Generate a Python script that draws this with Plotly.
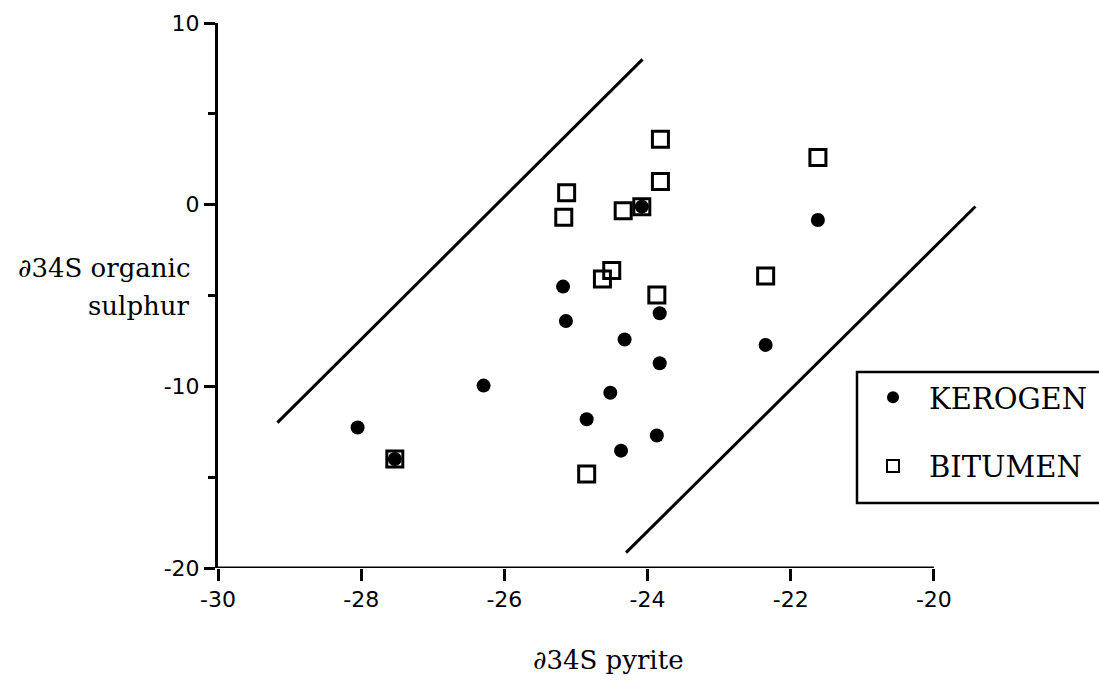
import plotly.graph_objects as go

# Sulphur isotope data: pyrite vs organic sulphur (per mil)
kerogen_x = [-28.05, -27.53, -26.29, -25.18, -25.14, -24.85, -24.52, -24.37,
             -24.32, -24.08, -23.87, -23.83, -23.83, -22.35, -21.62]
kerogen_y = [-12.27, -14.0, -9.96, -4.51, -6.40, -11.81, -10.35, -13.54,
             -7.42, -0.11, -12.71, -5.98, -8.73, -7.72, -0.84]

bitumen_x = [-27.53, -25.17, -25.13, -24.85, -24.63, -24.50, -24.34, -24.08,
             -23.87, -23.82, -23.82, -22.35, -21.62]
bitumen_y = [-14.0, -0.69, 0.66, -14.82, -4.09, -3.63, -0.33, -0.11,
             -4.97, 1.27, 3.60, -3.92, 2.59]

# Envelope lines bounding the data field
upper_x = [-29.17, -24.07]
upper_y = [-12.0, 8.0]
lower_x = [-24.30, -19.42]
lower_y = [-19.15, -0.1]

x_ticks = [-30, -28, -26, -24, -22, -20]
x_ticklabels = ["-30", "-28", "-26", "-24", "-22", "-20"]
y_ticks = [-20, -10, 0, 10]
y_ticklabels = ["-20", "-10", "0", "10"]

SERIF = "DejaVu Serif"
SANS = "DejaVu Sans"

W, H = 1099, 687
ML, MR, MT, MB = 218, 115, 23, 119
PW = W - ML - MR
PH = H - MT - MB


def px_x(p):
    return (p - ML) / PW


def px_y(p):
    return (H - MB - p) / PH


fig = go.Figure()

for lx, ly in ((upper_x, upper_y), (lower_x, lower_y)):
    fig.add_trace(go.Scatter(
        x=lx, y=ly, mode="lines",
        line=dict(color="black", width=3),
        showlegend=False, hoverinfo="skip",
    ))

fig.add_trace(go.Scatter(
    x=kerogen_x, y=kerogen_y, mode="markers", name="KEROGEN",
    legendgroup="k",
    marker=dict(symbol="circle", size=14, color="black"),
))
fig.add_trace(go.Scatter(
    x=bitumen_x, y=bitumen_y, mode="markers", name="BITUMEN",
    legendgroup="b",
    marker=dict(symbol="square-open", size=16, color="black",
                line=dict(color="black", width=3)),
))

# x axis baseline stops at -20 while the plot range runs a little further
fig.add_shape(type="line", xref="x", yref="y", x0=-30, x1=-20, y0=-20, y1=-20,
              line=dict(color="black", width=3))

# legend frame, running off the right edge of the page
fig.add_shape(type="rect", xref="paper", yref="paper",
              x0=px_x(857), x1=px_x(1112), y0=px_y(503), y1=px_y(372),
              line=dict(color="black", width=2.5), fillcolor="white", layer="below")

fig.add_annotation(text="∂34S organic", xref="paper", yref="paper",
                   x=px_x(192), y=px_y(268), xanchor="right", yanchor="middle",
                   showarrow=False, font=dict(family=SERIF, size=26, color="black"))
fig.add_annotation(text="sulphur", xref="paper", yref="paper",
                   x=px_x(192), y=px_y(306), xanchor="right", yanchor="middle",
                   showarrow=False, font=dict(family=SERIF, size=26, color="black"))
fig.add_annotation(text="∂34S pyrite", xref="paper", yref="paper",
                   x=px_x(608), y=px_y(660), xanchor="center", yanchor="middle",
                   showarrow=False, font=dict(family=SERIF, size=26, color="black"))

fig.update_layout(
    width=W, height=H,
    margin=dict(l=ML, r=MR, t=MT, b=MB, autoexpand=False),
    paper_bgcolor="white", plot_bgcolor="rgba(0,0,0,0)",
    showlegend=True,
    legend=dict(
        x=px_x(857), y=px_y(372), xanchor="left", yanchor="top",
        borderwidth=0, bgcolor="rgba(0,0,0,0)",
        font=dict(family=SERIF, size=29, color="black"),
        tracegroupgap=28, itemwidth=62, itemsizing="constant",
    ),
    xaxis=dict(
        range=[-30, -19.3], showgrid=False, zeroline=False, showline=False,
        tickmode="array", tickvals=x_ticks, ticktext=x_ticklabels,
        ticks="outside", ticklen=12, tickwidth=2.5, tickcolor="black",
        tickfont=dict(family=SANS, size=22, color="black"),
    ),
    yaxis=dict(
        range=[-20, 10], showgrid=False, zeroline=False,
        showline=True, linecolor="black", linewidth=3,
        tickmode="array", tickvals=y_ticks, ticktext=y_ticklabels,
        ticks="outside", ticklen=11, tickwidth=2.5, tickcolor="black",
        tickfont=dict(family=SANS, size=22, color="black"),
        minor=dict(tickmode="array", tickvals=[-15, -5, 5], ticks="outside",
                   ticklen=7, tickwidth=2.5, tickcolor="black"),
    ),
)

fig.write_html("out.html")
